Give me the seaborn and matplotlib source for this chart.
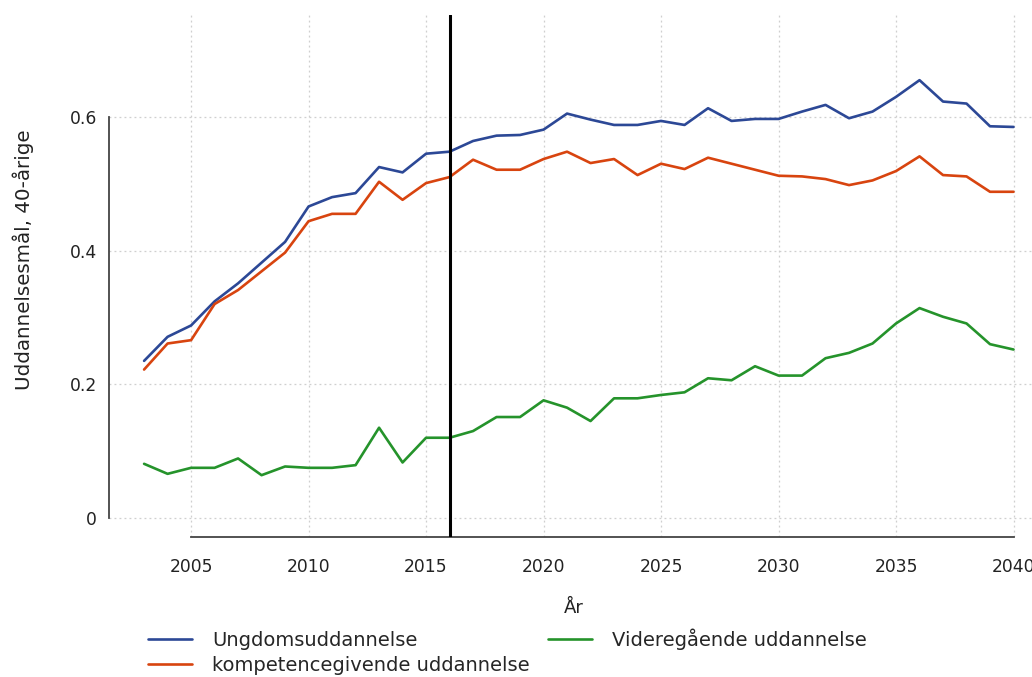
import matplotlib
matplotlib.use("Agg")
from matplotlib import pyplot as plt
import pandas as pd
import seaborn as sns

# data
years = list(range(2003, 2041))
ungdom = [0.235, 0.271, 0.288, 0.324, 0.351, 0.382, 0.413, 0.466, 0.480, 0.486,
          0.525, 0.517, 0.545, 0.548, 0.564, 0.572, 0.573, 0.581, 0.605, 0.596,
          0.588, 0.588, 0.594, 0.588, 0.613, 0.594, 0.597, 0.597, 0.608, 0.618,
          0.598, 0.608, 0.630, 0.655, 0.623, 0.620, 0.586, 0.585]
kompetence = [0.222, 0.261, 0.266, 0.320, 0.341, 0.369, 0.397, 0.444, 0.455, 0.455,
              0.503, 0.476, 0.501, 0.510, 0.536, 0.521, 0.521, 0.537, 0.548, 0.531,
              0.537, 0.513, 0.530, 0.522, 0.539, 0.530, 0.521, 0.512, 0.511, 0.507,
              0.498, 0.505, 0.519, 0.541, 0.513, 0.511, 0.488, 0.488]
videre = [0.081, 0.066, 0.075, 0.075, 0.089, 0.064, 0.077, 0.075, 0.075, 0.079,
          0.135, 0.083, 0.120, 0.120, 0.130, 0.151, 0.151, 0.176, 0.165, 0.145,
          0.179, 0.179, 0.184, 0.188, 0.209, 0.206, 0.227, 0.213, 0.213, 0.239,
          0.247, 0.261, 0.291, 0.314, 0.301, 0.291, 0.260, 0.252]
series_names = ["Ungdomsuddannelse", "kompetencegivende uddannelse", "Videregående uddannelse"]
colors = ["#2c4896", "#d8440f", "#25932b"]
split_year = 2016
x_ticks = [2005, 2010, 2015, 2020, 2025, 2030, 2035, 2040]
y_ticks = [0, 0.2, 0.4, 0.6]
y_ticklabels = ["0", "0.2", "0.4", "0.6"]

df = pd.DataFrame({"year": years * 3,
                   "value": ungdom + kompetence + videre,
                   "serie": [s for s in series_names for _ in years]})

sns.set_style("white")
plt.rcParams["font.family"] = ["DejaVu Sans"]

fig = plt.figure(figsize=(10.32, 6.77), dpi=100)
# plot region like R's base graphics (runs off the right edge)
ax = fig.add_axes([109.3 / 1032, 140 / 677, 939 / 1032, 522 / 677])

sns.lineplot(data=df, x="year", y="value", hue="serie", hue_order=series_names,
             palette=colors, linewidth=1.9, ax=ax)
ax.axvline(split_year, color="black", linewidth=2.2, zorder=5)

ax.set_xlim(2001.52, 2041.48)
ax.set_ylim(-0.0285, 0.7525)
ax.set_xticks(x_ticks)
ax.set_yticks(y_ticks)
ax.set_yticklabels(y_ticklabels)
ax.grid(True, linestyle=(0, (1.5, 2.5)), color="#cfcfcf", linewidth=0.9)

for side in ["top", "right"]:
    ax.spines[side].set_visible(False)
ax.spines["left"].set_bounds(0, 0.6)
ax.spines["bottom"].set_bounds(2005, 2040)
for side in ["left", "bottom"]:
    ax.spines[side].set_color("#444444")
    ax.spines[side].set_linewidth(1.3)

ax.tick_params(axis="both", direction="out", length=7, width=1.3, color="#444444",
               labelsize=12.3, labelcolor="#222222")
ax.tick_params(axis="x", pad=8)
ax.tick_params(axis="y", pad=2)

ax.set_xlabel("År", fontsize=13, color="#222222")
ax.set_ylabel("Uddannelsesmål, 40-årige", fontsize=14.3, color="#222222")
ax.xaxis.set_label_coords(0.495, -0.119)
ax.yaxis.set_label_coords(-0.080, 0.531)

handles, labels = ax.get_legend_handles_labels()
ax.get_legend().remove()
fig.legend(handles, labels, loc="upper left", bbox_to_anchor=(148 / 1032, 1 - 628 / 677),
           ncol=2, frameon=False, fontsize=14, handlelength=2.27, handletextpad=1.03,
           columnspacing=0.95, labelspacing=0.33, borderaxespad=0, borderpad=0)

fig.savefig("out.png", dpi=100)
